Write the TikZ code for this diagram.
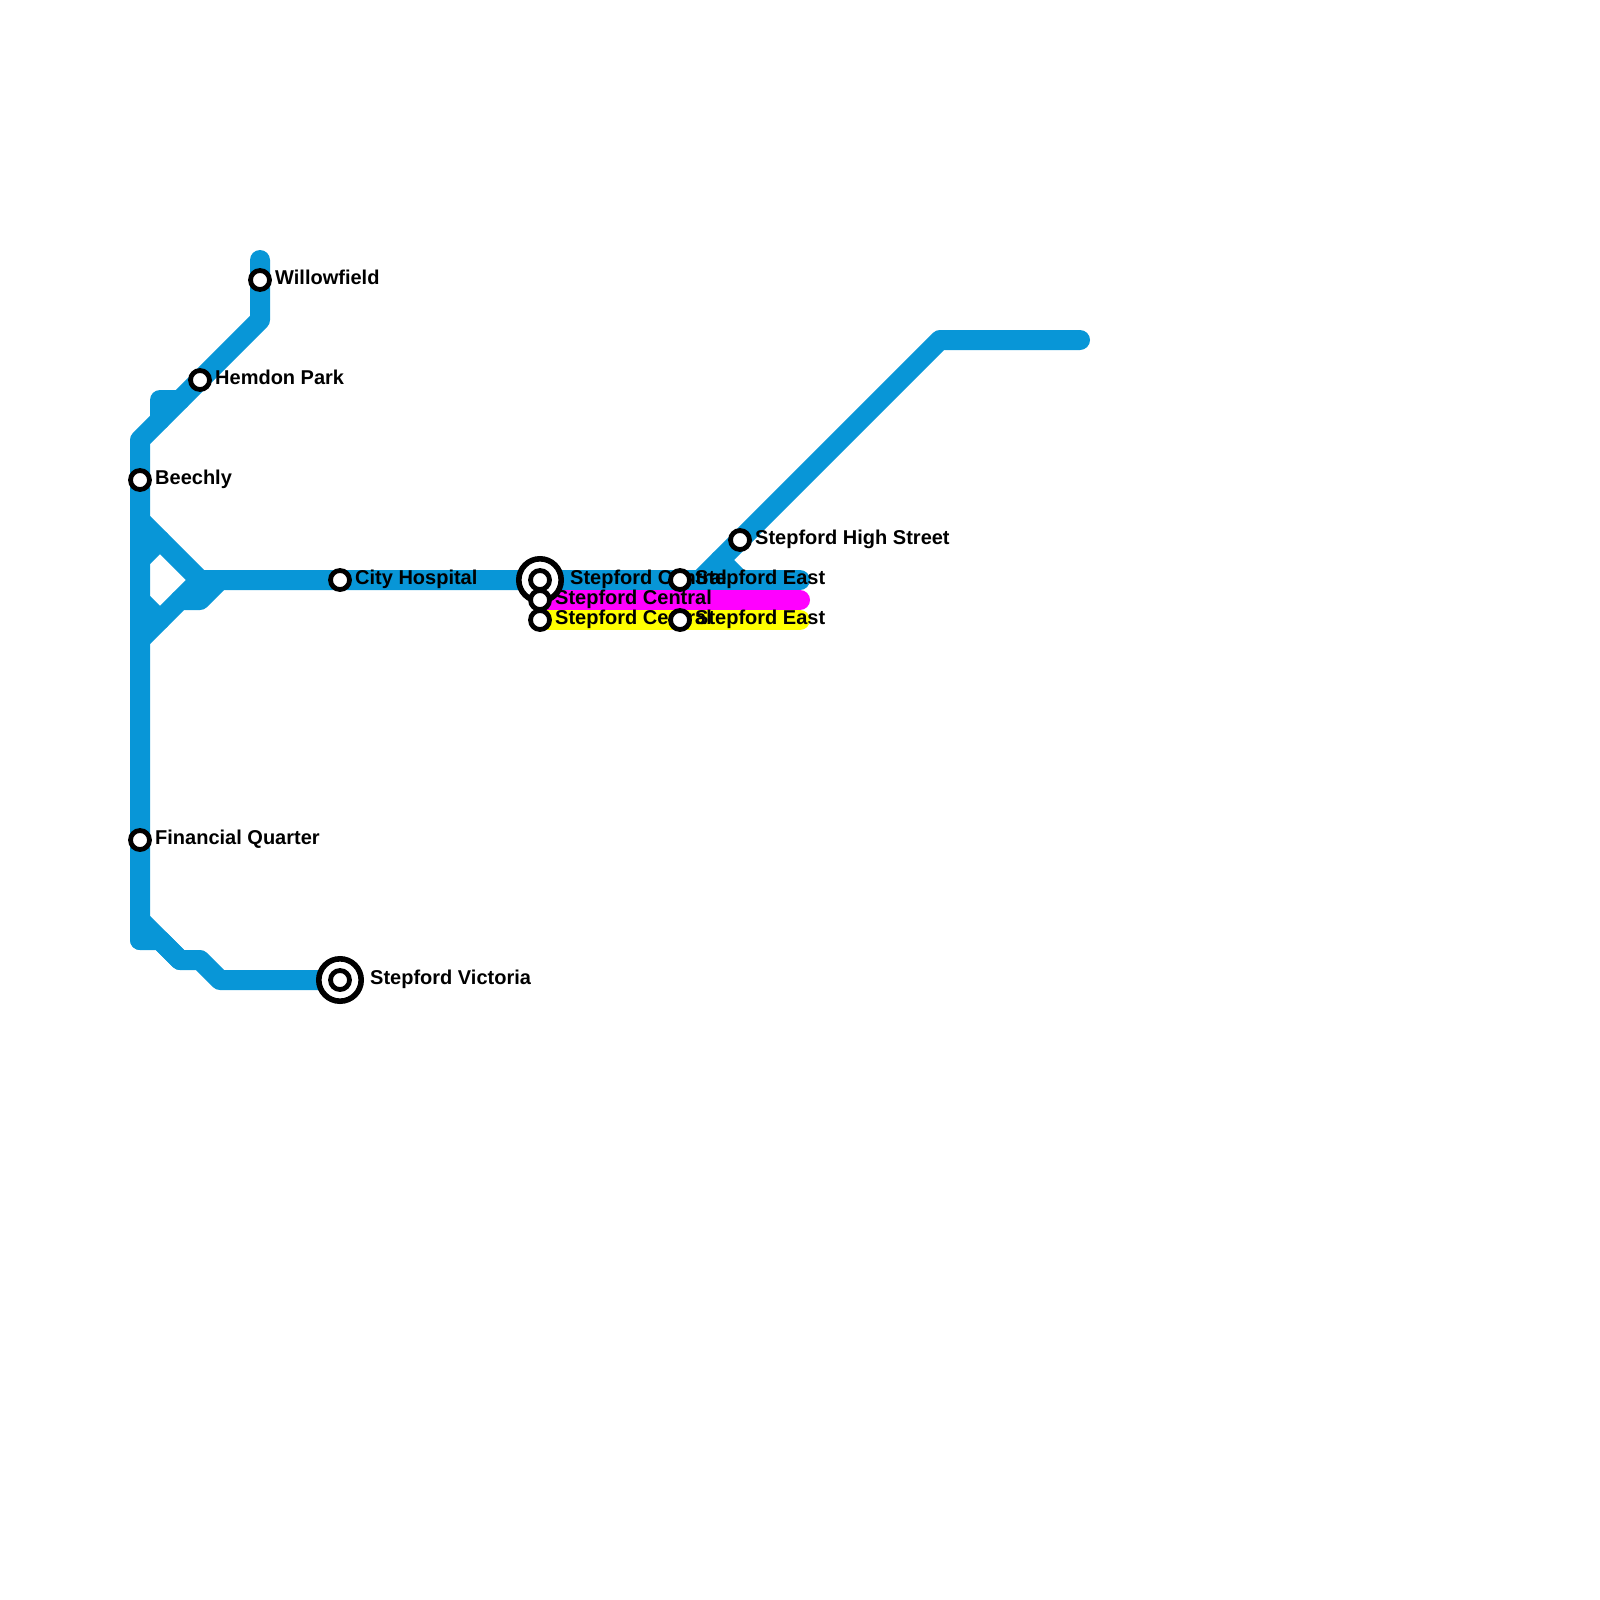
\documentclass[tikz,border=0pt]{standalone}
\usepackage{fontspec}
\setmainfont{Liberation Sans}
\definecolor{lineblue}{HTML}{0896D7}
\definecolor{linemag}{RGB}{255,0,255}
\definecolor{lineyel}{RGB}{255,255,0}
\tikzset{
  route/.style={line width=20pt,line cap=round,line join=round,color=lineblue},
  routemag/.style={route,color=linemag},
  routeyel/.style={route,color=lineyel},
  stn/.style={circle,draw=black,fill=white,line width=4.8pt,minimum size=19pt,inner sep=0pt,outer sep=0pt},
  hubring/.style={circle,draw=black,fill=white,line width=5.6pt,minimum size=42.4pt,inner sep=0pt,outer sep=0pt},
  lbl/.style={anchor=base west,inner sep=0pt,font=\fontsize{20}{22}\selectfont\bfseries,text=black}
}
\begin{document}
\begin{tikzpicture}[x=1pt,y=-1pt]
\useasboundingbox (0,0) rectangle (1600,1600);
% grid points
\foreach \n/\x/\y in {wtop/260/260,wf/260/280,wbend/260/320,hp/200/380,lj/140/440,
  bl/140/480,fq/140/840,lbot/140/940,la/140/920,b1/160/940,b2/180/960,b3/200/960,b4/220/980,sv/340/980,
  t1/160/420,t2/160/400,t3/180/400,
  d1/140/520,d2/200/580,d3/140/560,d4/160/540,d5/140/600,d6/160/620,d7/140/640,d8/180/600,d9/200/600,d10/220/580,
  ch/340/580,sc1/540/580,sc2/540/600,sc3/540/620,se1/680/580,se3/680/620,e1/800/580,e2/800/600,e3/800/620,
  f1/700/580,hs/740/540,f2/940/340,f3/1080/340,g1/720/560,g2/740/580}
  {\coordinate (\n) at (\x,\y);}
% routes
\draw[route] (wtop) -- (wbend) -- (lj) -- (lbot);
\draw[route] (t1) -- (t2) -- (t3);
\draw[route] (la) -- (b2) -- (b3) -- (b4) -- (sv);
\draw[route] (lbot) -- (b1) -- (b2);
\draw[route] (d1) -- (d2) -- (e1);
\draw[route] (d3) -- (d4);
\draw[route] (d5) -- (d6);
\draw[route] (d7) -- (d8) -- (d9) -- (d10);
\draw[route] (d8) -- (d2);
\draw[route] (f1) -- (f2) -- (f3);
\draw[route] (g1) -- (g2);
\draw[routemag] (sc2) -- (e2);
\draw[routeyel] (sc3) -- (e3);
% labels
\node[lbl] (lwf) at (275,284.6) {Willowfield};
\node[lbl] (lhp) at (215,384.6) {Hemdon Park};
\node[lbl] (lbl1) at (155,484.6) {Beechly};
\node[lbl] (lfq) at (155,844.6) {Financial Quarter};
\node[lbl] (lsv) at (370,984.6) {Stepford Victoria};
\node[lbl] (lch) at (355,584.6) {City Hospital};
\node[lbl] (lsc1) at (570,584.6) {Stepford Central};
\node[lbl] (lsc2) at (555,604.6) {Stepford Central};
\node[lbl] (lsc3) at (555,624.6) {Stepford Central};
% stations
\node[stn] (nwf) at (wf) {};
\node[stn] (nhp) at (hp) {};
\node[stn] (nbl) at (bl) {};
\node[stn] (nfq) at (fq) {};
\node[stn] (nch) at (ch) {};
\node[hubring] (nsvo) at (sv) {};
\node[stn] (nsv) at (sv) {};
\node[hubring] (nsco) at (sc1) {};
\node[stn] (nsc1) at (sc1) {};
\node[stn] (nsc2) at (sc2) {};
\node[stn] (nsc3) at (sc3) {};
\node[stn] (nse1) at (se1) {};
\node[stn] (nse3) at (se3) {};
\node[stn] (nhs) at (hs) {};
\node[lbl] (lse1) at (695,584.6) {Stepford East};
\node[lbl] (lse3) at (695,624.6) {Stepford East};
\node[lbl] (lhs) at (755,544.6) {Stepford High Street};
\end{tikzpicture}
\end{document}
